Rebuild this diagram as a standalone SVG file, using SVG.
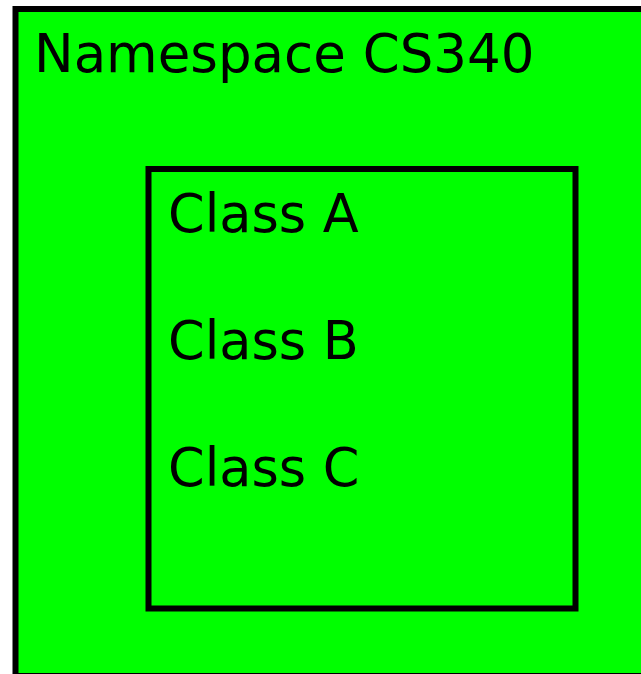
<svg xmlns="http://www.w3.org/2000/svg" width="641" height="674" viewBox="0 0 641 674">
<style>
.box{fill:#00ff00;stroke:#000;stroke-width:6}
.inner{fill:none;stroke:#000;stroke-width:6}
.t{font-family:"DejaVu Sans",sans-serif;font-size:52.5px;fill:#000}
</style>
<rect width="641" height="674" fill="#fff"/>
<g id="namespace">
<rect class="box" x="15.5" y="9" width="700" height="667"/>
<text class="t" x="34" y="72" style="font-size:53px">Namespace CS340</text>
</g>
<g id="classes">
<rect class="inner" x="148.5" y="169" width="427" height="439.5"/>
<text class="t" x="168" y="232">Class A</text>
<text class="t" x="168" y="359">Class B</text>
<text class="t" x="168" y="486">Class C</text>
</g>
<g id="connectors"></g>
</svg>
